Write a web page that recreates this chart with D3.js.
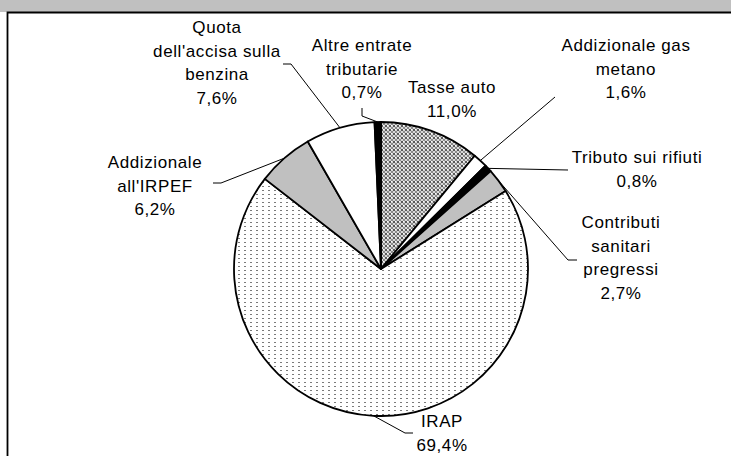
<!DOCTYPE html>
<html>
<head>
<meta charset="utf-8">
<script src="https://cdn.jsdelivr.net/npm/d3@7"></script>
<style>
  body { margin: 0; background: #fff; }
  svg { display: block; }
  .lbl { font-family: "Liberation Sans", Arial, sans-serif; font-size: 17px; letter-spacing: 0.6px; fill: #000; }
</style>
</head>
<body>
<svg width="731" height="456"></svg>
<script>
// slice names (one string per text line), clockwise from 12 o'clock
var categories = [
    ['Tasse auto'],
    ['Addizionale gas', 'metano'],
    ['Tributo sui rifiuti'],
    ['Contributi', 'sanitari', 'pregressi'],
    ['IRAP'],
    ['Addizionale', "all'IRPEF"],
    ['Quota', "dell'accisa sulla", 'benzina'],
    ['Altre entrate', 'tributarie']
];
var values = [11.0, 1.6, 0.8, 2.7, 69.4, 6.2, 7.6, 0.7];
var fills = ['url(#cross)', '#ffffff', '#000000', '#c0c0c0', 'url(#dots)', '#c0c0c0', '#ffffff', '#000000'];

// where each label block sits (centre x, first line y) and its leader line bends
var labelPos = [
    {x: 452, y: 87, leader: null},
    {x: 626, y: 45, leader: [[555, 97]]},
    {x: 637, y: 157, leader: [[568, 170]]},
    {x: 621, y: 222, leader: [[568, 260], [577, 260]]},
    {x: 442, y: 421, leader: [[405, 433], [413, 433]]},
    {x: 155, y: 162, leader: [[221, 183], [213, 183]]},
    {x: 217, y: 27, leader: [[291, 64], [283, 64]]},
    {x: 362, y: 45, leader: [[362, 116], [362, 108]]}
];

var svg = d3.select('svg');
var svgWidth = +svg.attr('width');
var svgHeight = +svg.attr('height');

var cx = 381, cy = 269, radius = 147;
var lineGap = 23.6;

var it = d3.formatLocale({decimal: ',', thousands: '.', grouping: [3], currency: ['', '€']});
var pct = it.format('.1f');

// fill patterns
var defs = svg.append('defs');
var cross = defs.append('pattern')
    .attr('id', 'cross')
    .attr('width', 4).attr('height', 4)
    .attr('patternUnits', 'userSpaceOnUse');
cross.append('rect').attr('width', 4).attr('height', 4).attr('fill', '#d8d8d8');
cross.append('rect').attr('width', 2).attr('height', 2).attr('fill', '#5a5a5a');
cross.append('rect').attr('x', 2).attr('y', 2).attr('width', 2).attr('height', 2).attr('fill', '#8a8a8a');
cross.append('rect').attr('x', 2).attr('y', 0).attr('width', 1).attr('height', 1).attr('fill', '#ffffff');

var dots = defs.append('pattern')
    .attr('id', 'dots')
    .attr('width', 6).attr('height', 4)
    .attr('patternUnits', 'userSpaceOnUse');
dots.append('rect').attr('width', 6).attr('height', 4).attr('fill', '#ffffff');
dots.append('rect').attr('x', 1).attr('y', 1).attr('width', 2).attr('height', 1).attr('fill', '#7a7a7a');

// frame: grey band on top, black edges left and top
svg.append('rect')
    .attr('x', 0).attr('y', 0)
    .attr('width', svgWidth).attr('height', 12)
    .attr('fill', '#c0c0c0');
svg.append('path')
    .attr('d', 'M7.5,' + svgHeight + 'V12.5H' + svgWidth)
    .attr('fill', 'none')
    .attr('stroke', '#000')
    .attr('stroke-width', 1.8);

var pie = d3.pie().sort(null).value(function(d) { return d; });
var arcs = pie(values);
var arc = d3.arc().innerRadius(0).outerRadius(radius);

var chartG = svg.append('g')
    .attr('transform', 'translate(' + [cx, cy] + ')');

chartG.selectAll('path.slice')
    .data(arcs)
    .enter()
    .append('path')
    .attr('class', 'slice')
    .attr('d', arc)
    .attr('fill', function(d, i) { return fills[i]; })
    .attr('stroke', '#000')
    .attr('stroke-width', 1.8)
    .attr('stroke-linejoin', 'round');

// leader lines from the slice edge to the label
var edge = d3.arc().innerRadius(radius).outerRadius(radius);
arcs.forEach(function(d, i) {
    var lp = labelPos[i];
    if (!lp.leader) return;
    var c = edge.centroid(d);
    var pts = [[c[0] + cx, c[1] + cy]].concat(lp.leader);
    svg.append('path')
        .attr('d', d3.line()(pts))
        .attr('fill', 'none')
        .attr('stroke', '#000')
        .attr('stroke-width', 1);
});

// labels
arcs.forEach(function(d, i) {
    var lp = labelPos[i];
    var lines = categories[i].concat([pct(values[i]) + '%']);
    var t = svg.append('text')
        .attr('class', 'lbl')
        .attr('text-anchor', 'middle');
    lines.forEach(function(s, j) {
        t.append('tspan')
            .attr('x', lp.x)
            .attr('y', lp.y + j * lineGap)
            .attr('dy', '0.36em')
            .text(s);
    });
});
</script>
</body>
</html>
